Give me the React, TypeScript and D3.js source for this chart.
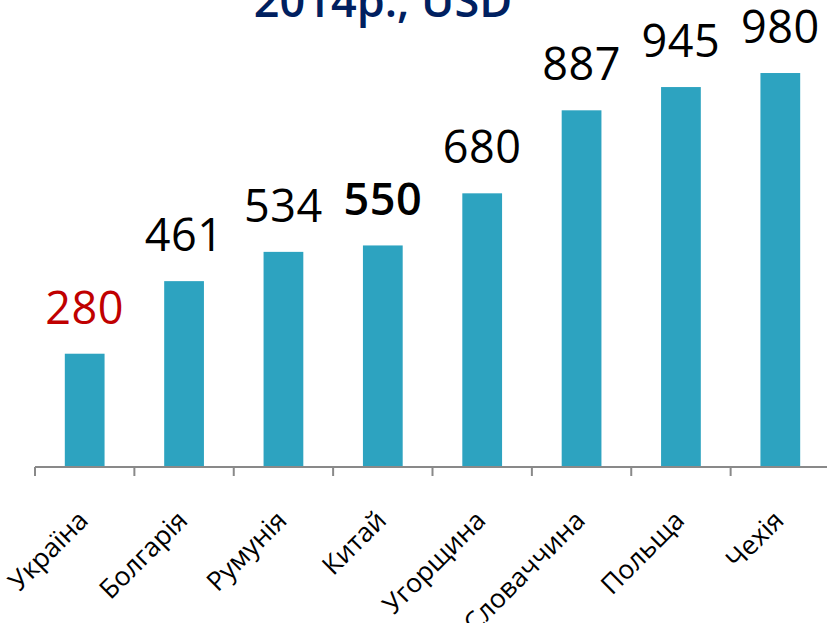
import React from "react";
import * as d3 from "d3";

const categories = ["Україна", "Болгарія", "Румунія", "Китай", "Угорщина", "Словаччина", "Польща", "Чехія"];
const values = [280, 461, 534, 550, 680, 887, 945, 980];
const labelColors = ["#C00000", "#000", "#000", "#000", "#000", "#000", "#000", "#000"];
const labelWeights = [400, 400, 400, 600, 400, 400, 400, 400];
const titleText = "2014р., USD";

const W = 827;
const H = 623;

export default function App() {
  const x = d3.scaleBand<string>().domain(categories).range([35, 830]).paddingInner(0.6).paddingOuter(0.3);
  const y = d3.scaleLinear().domain([0, 1000]).range([466, 65]);
  const step = x.step();
  const x0 = 35;
  const baseY = 467;
  const ticks = d3.range(categories.length + 1).map((i) => x0 + i * step);
  const font = "'Open Sans', 'DejaVu Sans', sans-serif";

  return (
    <svg width={W} height={H} style={{ position: "absolute", left: 0, top: 0, background: "#fff" }}>
      <text x={383} y={17} textAnchor="middle" fontFamily={font} fontWeight={600} fontSize={45} fill="#002060">
        {titleText}
      </text>
      {categories.map((c, i) => (
        <rect key={c} x={x(c)} y={y(values[i])} width={x.bandwidth()} height={y(0) - y(values[i])} fill="#2DA3C0" />
      ))}
      {categories.map((c, i) => (
        <text
          key={"v" + c}
          x={(x(c) as number) + x.bandwidth() / 2}
          y={y(values[i]) - 30}
          textAnchor="middle"
          fontFamily={font}
          fontSize={45}
          letterSpacing={0.5}
          fontWeight={labelWeights[i]}
          fill={labelColors[i]}
        >
          {values[i]}
        </text>
      ))}
      <line x1={x0} x2={830} y1={baseY} y2={baseY} stroke="#898989" strokeWidth={2} />
      {ticks.map((t, i) => (
        <line key={"t" + i} x1={t} x2={t} y1={baseY} y2={baseY + 9} stroke="#898989" strokeWidth={2} />
      ))}
      {categories.map((c) => {
        const cx = (x(c) as number) + x.bandwidth() / 2 + 5;
        const cy = 522;
        return (
          <text
            key={"c" + c}
            x={cx}
            y={cy}
            textAnchor="end"
            fontFamily={font}
            fontSize={26.5}
            fill="#000"
            transform={`rotate(-45 ${cx} ${cy})`}
          >
            {c}
          </text>
        );
      })}
    </svg>
  );
}
